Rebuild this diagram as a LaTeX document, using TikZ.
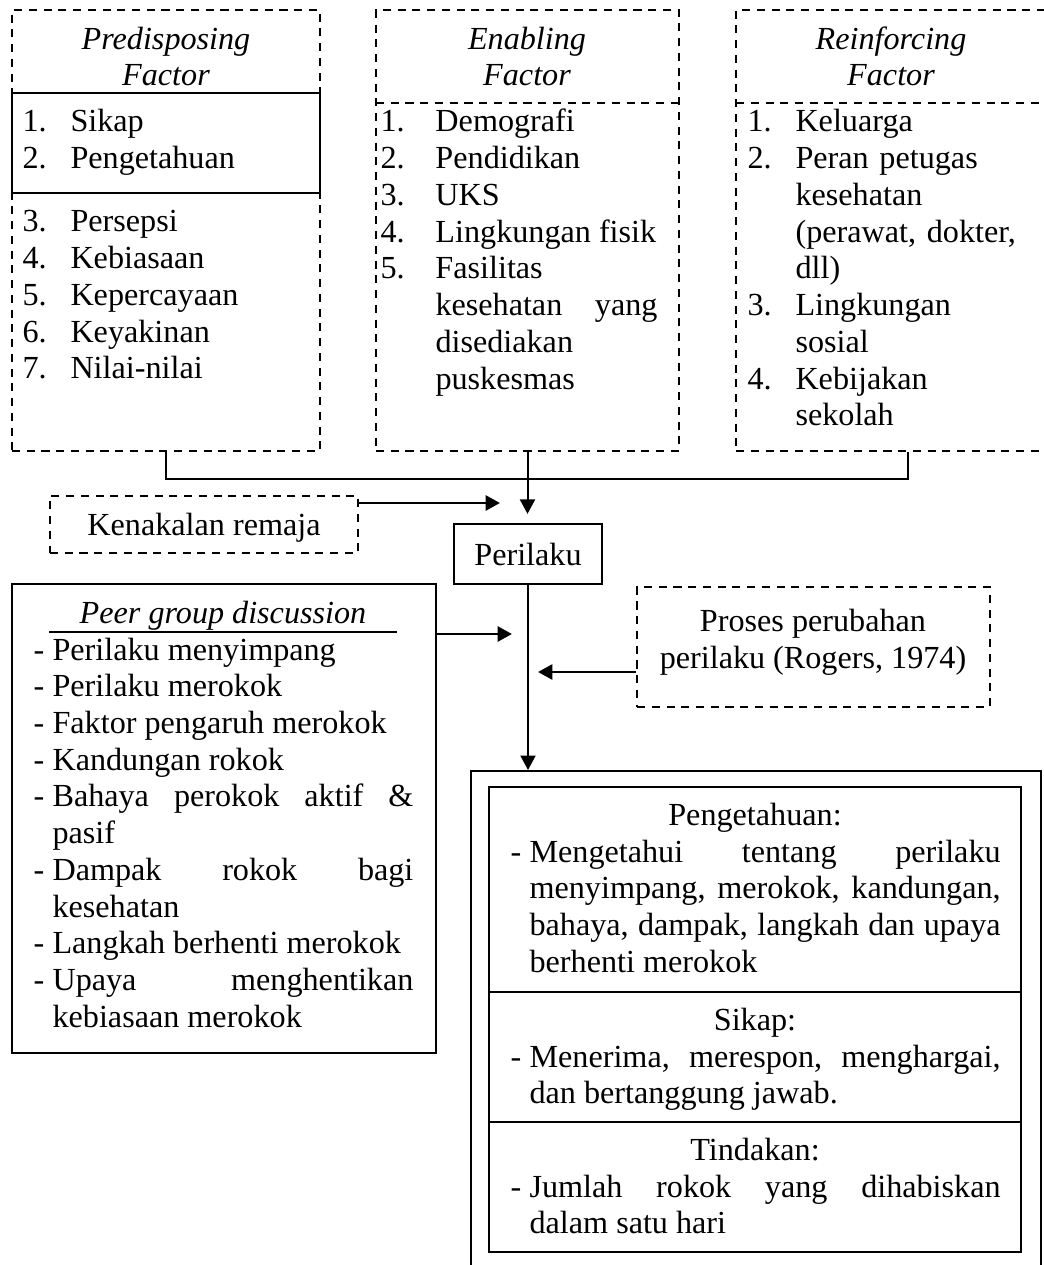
\documentclass[tikz,border=0pt]{standalone}
\usepackage{fontspec}
\setmainfont{Liberation Serif}
\usetikzlibrary{arrows.meta, positioning, fit}

\newlength\hangw
\newcommand\itm[2]{\hangindent=\hangw\hangafter=1\noindent\makebox[\hangw][l]{#1}#2\par}

\tikzset{
  dbox/.style={draw, dash pattern=on 3pt off 2.5pt, line width=0.75pt, inner sep=0pt},
  sbox/.style={draw, line width=0.75pt, inner sep=0pt},
  dline/.style={dash pattern=on 3pt off 2.5pt, line width=0.75pt},
  txt/.style={inner sep=0pt, anchor=base west},
  hd/.style={inner sep=0pt, anchor=base, align=center},
  ihd/.style={hd, font=\fontsize{12}{13.7}\selectfont\itshape},
  line/.style={line width=0.75pt},
  arr/.style={line width=0.75pt, -{Triangle[length=5.4pt, width=5.6pt]}},
  fatarr/.style={line width=1.1pt, -{Triangle[length=5.4pt, width=5.6pt]}}
}

\begin{document}
\begin{tikzpicture}[x=0.373pt, y=-0.373pt, font=\fontsize{12}{13.7}\selectfont]
  \useasboundingbox (0,0) rectangle (1043,1265);

  % Factor boxes
  \node[dbox, fit={(12,10) (320,451)}] (pre) {};
  \node[sbox, fit={(12,93) (320,193)}] (preS) {};
  \node[dbox, fit={(376,10) (679,451)}] (ena) {};
  \node[dbox, fit={(736,10) (1046,451)}] (rei) {};
  \draw[dline] (376,103) -- (679,103);
  \draw[dline] (736,103) -- (1046,103);

  % headers (anchored on the last line)
  \node[ihd] (preH) at (166,86) {Predisposing\\Factor};
  \node[ihd] (enaH) at (527,86) {Enabling\\Factor};
  \node[ihd] (reiH) at (891,86) {Reinforcing\\Factor};

  \node[txt, text width=110pt, align=left] (preA) at (22,132) {\setlength\hangw{17.9pt}%
    \itm{1.}{Sikap}\itm{2.}{Pengetahuan}};
  \node[txt, text width=110pt, align=left] (preB) at (22,232) {\setlength\hangw{17.9pt}%
    \itm{3.}{Persepsi}\itm{4.}{Kebiasaan}\itm{5.}{Kepercayaan}\itm{6.}{Keyakinan}\itm{7.}{Nilai-nilai}};
  \node[txt, text width=103.3pt, align=justify] (enaL) at (380,132) {\setlength\hangw{20.5pt}%
    \itm{1.}{Demografi}\itm{2.}{Pendidikan}\itm{3.}{UKS}\itm{4.}{Lingkungan fisik}%
    \itm{5.}{Fasilitas\newline kesehatan yang\linebreak disediakan\newline puskesmas}};
  \node[txt, text width=110pt, align=left] (reiL) at (747,132) {\setlength\hangw{17.9pt}%
    \itm{1.}{Keluarga}\itm{2.}{Peran petugas\newline kesehatan\newline (perawat, dokter,\newline dll)}%
    \itm{3.}{Lingkungan\newline sosial}\itm{4.}{Kebijakan\newline sekolah}};

  % Middle row
  \node[dbox, fit={(50,496) (358,553)}] (ken) {};
  \node[hd] (kenT) at (204,536) {Kenakalan remaja};
  \node[sbox, fit={(454,524) (602,584)}] (per) {};
  \node[hd] (perT) at (528,565) {Perilaku};
  \node[dbox, fit={(637,587) (990,707)}] (pro) {};
  \node[hd] (proT) at (813,668) {Proses perubahan\\perilaku (Rogers, 1974)};

  % Peer group discussion
  \node[sbox, fit={(12,584) (436,1053)}] (peer) {};
  \node[ihd] (peerH) at (223,623) {Peer group discussion};
  \draw[line] (49,632) -- (397,632);
  \node[txt, text width=141.7pt, align=justify] (peerL) at (33,660) {\setlength\hangw{7.1pt}%
    \itm{-}{Perilaku menyimpang}\itm{-}{Perilaku merokok}\itm{-}{Faktor pengaruh merokok}%
    \itm{-}{Kandungan rokok}\itm{-}{Bahaya perokok aktif \&\linebreak pasif}%
    \itm{-}{Dampak rokok bagi\linebreak kesehatan}\itm{-}{Langkah berhenti merokok}%
    \itm{-}{Upaya menghentikan\linebreak kebiasaan merokok}};

  % Result
  \node[sbox, fit={(471,771) (1041,1290)}] (res) {};
  \node[sbox, fit={(489,787) (1021,992)}] (resK) {};
  \node[sbox, fit={(489,992) (1021,1122)}] (resS) {};
  \node[sbox, fit={(489,1122) (1021,1252)}] (resT) {};
  \node[hd] (resKH) at (755,825) {Pengetahuan:};
  \node[txt, text width=182.8pt, align=justify] (resKL) at (510,862) {\setlength\hangw{7.1pt}%
    \itm{-}{Mengetahui tentang perilaku\linebreak menyimpang, merokok, kandungan,\linebreak
    bahaya, dampak, langkah dan upaya\linebreak berhenti merokok}};
  \node[hd] (resSH) at (755,1030) {Sikap:};
  \node[txt, text width=182.8pt, align=justify] (resSL) at (510,1067) {\setlength\hangw{7.1pt}%
    \itm{-}{Menerima, merespon, menghargai,\linebreak dan bertanggung jawab.}};
  \node[hd] (resTH) at (755,1160) {Tindakan:};
  \node[txt, text width=182.8pt, align=justify] (resTL) at (510,1197) {\setlength\hangw{7.1pt}%
    \itm{-}{Jumlah rokok yang dihabiskan\linebreak dalam satu hari}};

  % Connectors
  \coordinate (join) at (ena.south |- 0,479);
  \draw[line] (pre.south) |- (join);
  \draw[line] ([xshift=6.3pt]rei.south) |- (join);
  \draw[arr, shorten >=3.4pt] (ena.south) -- (ena.south |- per.north);
  \draw[arr] (per.south) -- (per.south |- res.north);
  \coordinate (kenTip) at (500,503);
  \draw[fatarr] (kenTip -| ken.east) -- (kenTip);
  \coordinate (peerTip) at (512,634);
  \draw[fatarr] (peerTip -| peer.east) -- (peerTip);
  \coordinate (proTip) at (538,672);
  \draw[fatarr] (proTip -| pro.west) -- (proTip);
\end{tikzpicture}
\end{document}
